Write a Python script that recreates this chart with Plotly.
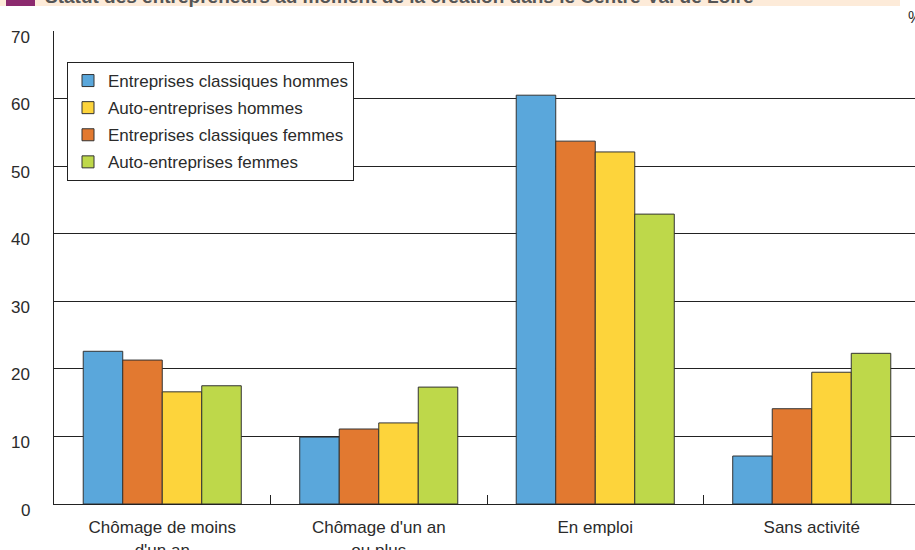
import plotly.graph_objects as go

# Situation before starting the business, by type of company and sex (%)
categories = ["Chômage de moins<br>d'un an", "Chômage d'un an<br>ou plus", "En emploi", "Sans activité"]

classiques_hommes = [22.6, 9.9, 60.5, 7.1]
classiques_femmes = [21.3, 11.1, 53.7, 14.1]
auto_hommes = [16.6, 12.0, 52.1, 19.5]
auto_femmes = [17.5, 17.3, 42.9, 22.3]

y_ticks = [0, 10, 20, 30, 40, 50, 60, 70]

title_text = "Statut des entrepreneurs au moment de la création dans le Centre-Val de Loire"

W, H = 915, 550
M_L, M_R, M_T, M_B = 54, 0, 31, 46
plot_w = W - M_L - M_R
plot_h = H - M_T - M_B
slot = 216.5  # px per category

font_family = "Liberation Sans, Arial, sans-serif"
text_color = "#2b2b2b"
outline = dict(color="#333333", width=1)
fs = 17

series = [
    ("Entreprises classiques hommes", classiques_hommes, "#5aa7db", 1),
    ("Entreprises classiques femmes", classiques_femmes, "#e27930", 3),
    ("Auto-entreprises hommes", auto_hommes, "#fdd43b", 2),
    ("Auto-entreprises femmes", auto_femmes, "#bed84a", 4),
]

fig = go.Figure()
for name, vals, color, rank in series:
    fig.add_trace(go.Bar(
        x=categories, y=vals, name=name,
        marker=dict(color=color, line=outline),
        legendrank=rank, legendgroup=name,
    ))

# y tick labels sit slightly below their gridlines
annotations = []
for t in y_ticks:
    annotations.append(dict(
        x=-22 / plot_w, xref="paper", xanchor="right",
        y=t, yref="y", yanchor="middle", yshift=-6,
        text=str(t), showarrow=False,
        font=dict(family=font_family, size=fs, color=text_color),
    ))

# header strip (mostly above the page)
annotations.append(dict(
    x=(43 - M_L) / plot_w, xref="paper", xanchor="left",
    y=1 + (M_T - 9) / plot_h, yref="paper", yanchor="bottom",
    text="<b>" + title_text + "</b>", showarrow=False,
    font=dict(family=font_family, size=19, color="#555555"),
))
annotations.append(dict(
    x=(906 - M_L) / plot_w, xref="paper", xanchor="left",
    y=1 + (M_T - 18) / plot_h, yref="paper", yanchor="middle",
    text="%", showarrow=False,
    font=dict(family=font_family, size=16, color=text_color),
))

shapes = [
    dict(type="rect", xref="paper", yref="paper",
         x0=-M_L / plot_w, x1=(900 - M_L) / plot_w,
         y0=1 + (M_T - 6) / plot_h, y1=1 + (M_T + 5) / plot_h,
         fillcolor="#fdebd9", line=dict(width=0), layer="above"),
    dict(type="rect", xref="paper", yref="paper",
         x0=(6 - M_L) / plot_w, x1=(35 - M_L) / plot_w,
         y0=1 + (M_T - 6) / plot_h, y1=1 + (M_T + 5) / plot_h,
         fillcolor="#8c2a6e", line=dict(width=0), layer="above"),
]

fig.update_layout(
    width=W, height=H, autosize=False,
    margin=dict(l=M_L, r=M_R, t=M_T, b=M_B, pad=0),
    paper_bgcolor="white", plot_bgcolor="white",
    barmode="group", bargap=0.27, bargroupgap=0,
    font=dict(family=font_family, size=fs, color=text_color),
    showlegend=True,
    legend=dict(
        x=(67 - M_L) / plot_w, xanchor="left",
        y=1 - (62 - M_T) / plot_h, yanchor="top",
        bgcolor="white", bordercolor="#222222", borderwidth=1,
        font=dict(family=font_family, size=fs, color=text_color),
        traceorder="grouped", tracegroupgap=2,
    ),
    annotations=annotations,
    shapes=shapes,
)

fig.update_xaxes(
    range=[-0.5, -0.5 + plot_w / slot],
    showline=True, linecolor="#222222", linewidth=1,
    ticks="inside", tickson="boundaries", ticklen=9, tickcolor="#222222", tickwidth=1,
    showgrid=False, fixedrange=True, ticklabelstandoff=8, automargin=False,
    tickfont=dict(family=font_family, size=fs, color=text_color),
)
fig.update_yaxes(
    range=[0, 70], tickvals=y_ticks, showticklabels=False,
    showgrid=True, gridcolor="#222222", gridwidth=1,
    showline=True, linecolor="#222222", linewidth=1,
    zeroline=False, ticks="", fixedrange=True, automargin=False,
)

fig.write_html("out.html")
